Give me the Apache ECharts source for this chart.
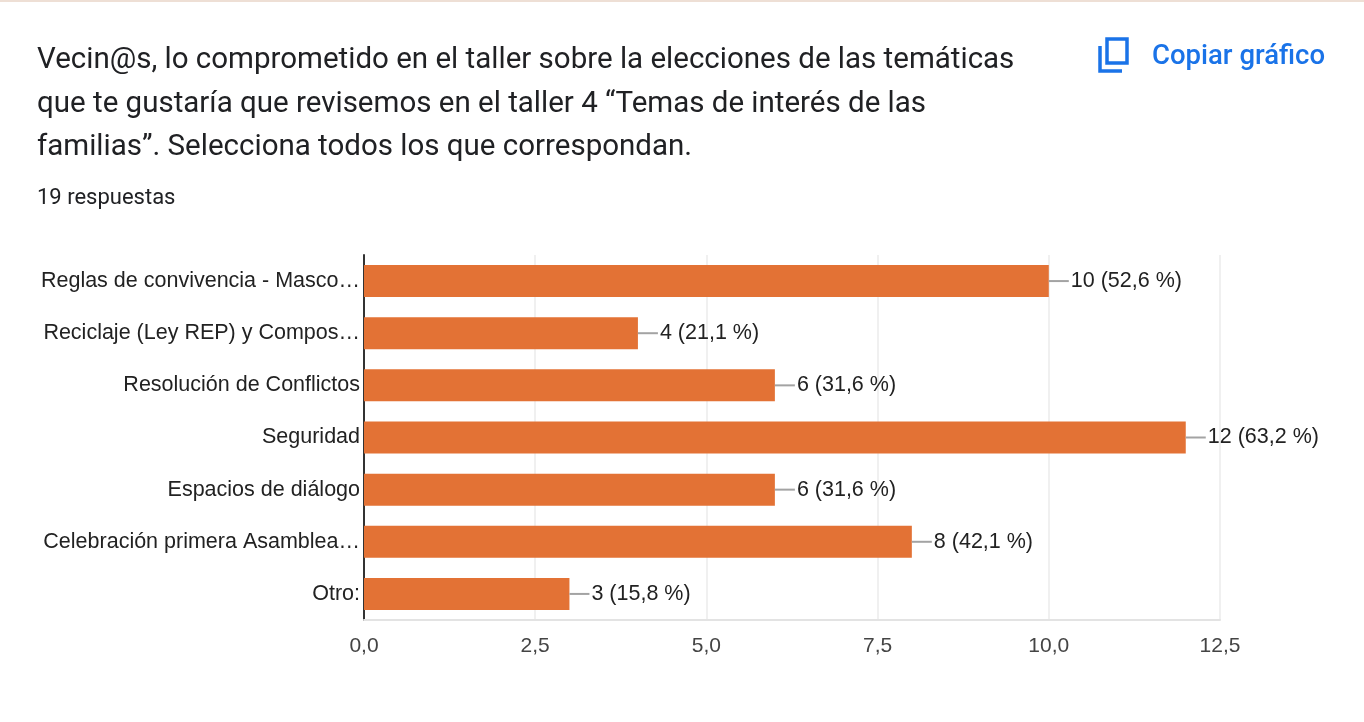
<!DOCTYPE html>
<html>
<head>
<meta charset="utf-8">
<script src="https://cdn.jsdelivr.net/npm/echarts@6/dist/echarts.min.js"></script>
<style>
	html, body { margin: 0; padding: 0; background: #fff; }
	#chart { width: 1364px; height: 722px; }
</style>
</head>
<body>
<div id="chart"></div>
<script>
// datos
var categorias = [
	'Reglas de convivencia - Masco…',
	'Reciclaje (Ley REP) y Compos…',
	'Resolución de Conflictos',
	'Seguridad',
	'Espacios de diálogo',
	'Celebración primera Asamblea…',
	'Otro:'
];
var respuestas = [10, 4, 6, 12, 6, 8, 3];
var porcentajes = ['52,6', '21,1', '31,6', '63,2', '31,6', '42,1', '15,8'];
var ticksX = [0, 2.5, 5, 7.5, 10, 12.5];

var titulo = 'Vecin@s, lo comprometido en el taller sobre la elecciones de las temáticas\nque te gustaría que revisemos en el taller 4 “Temas de interés de las\nfamilias”. Selecciona todos los que correspondan.';

var fuenteEje = '"Liberation Sans", Arial, sans-serif';
var azul = '#1a73e8';

var chart = echarts.init(document.getElementById('chart'));

var option = {
	backgroundColor: '#fff',
	animation: false,
	title: [{
		text: titulo,
		left: 32,
		top: 34,
		textStyle: {
			fontFamily: 'Roboto',
			fontSize: 29.5,
			fontWeight: 'normal',
			color: '#202124',
			lineHeight: 43.5
		}
	}, {
		text: '19 respuestas',
		left: 32,
		top: 182,
		textStyle: {
			fontFamily: 'Roboto',
			fontSize: 22,
			fontWeight: 'normal',
			color: '#202124'
		}
	}, {
		text: 'Copiar gráfico',
		left: 1147,
		top: 38,
		textStyle: {
			fontFamily: 'Roboto',
			fontSize: 27.5,
			fontWeight: 500,
			color: azul
		}
	}],
	graphic: [
		// borde superior de la tarjeta
		{ type: 'rect', left: 0, top: 0, shape: { width: 1364, height: 2 }, style: { fill: '#eedfd5' } },
		// icono copiar
		{ type: 'rect', shape: { x: 1107, y: 39, width: 20, height: 24 }, style: { fill: 'none', stroke: azul, lineWidth: 3.5 } },
		{ type: 'polyline', shape: { points: [[1100, 46], [1100, 71], [1122, 71]] }, style: { fill: 'none', stroke: azul, lineWidth: 3.5 } }
	],
	grid: {
		left: 364,
		right: 144,
		top: 255,
		bottom: 102,
		containLabel: false
	},
	xAxis: {
		type: 'value',
		min: 0,
		max: 12.5,
		interval: 2.5,
		axisLine: { show: true, lineStyle: { color: '#e3e3e3', width: 2 } },
		axisTick: { show: false },
		splitLine: { show: true, lineStyle: { color: '#ebebeb', width: 1.5 } },
		axisLabel: {
			margin: 16,
			fontFamily: fuenteEje,
			fontSize: 21,
			color: '#444',
			formatter: function (v) {
				return ticksX.indexOf(v) >= 0 ? v.toFixed(1).replace('.', ',') : '';
			}
		}
	},
	yAxis: {
		type: 'category',
		inverse: true,
		data: categorias,
		axisLine: { show: true, lineStyle: { color: '#333', width: 2 } },
		axisTick: { show: false },
		axisLabel: {
			margin: 4,
			fontFamily: fuenteEje,
			fontSize: 21.5,
			color: '#222'
		}
	},
	series: [{
		type: 'bar',
		data: respuestas,
		barWidth: 32,
		itemStyle: { color: '#e37235' },
		label: {
			show: true,
			position: 'right',
			distance: 0,
			formatter: function (p) {
				return '{l| }{t|' + p.value + ' (' + porcentajes[p.dataIndex] + ' %)}';
			},
			rich: {
				l: { width: 20, height: 2, backgroundColor: '#a3a3a3' },
				t: { fontFamily: fuenteEje, fontSize: 21.5, color: '#222', padding: [0, 0, 0, 2] }
			}
		}
	}]
};

chart.setOption(option);

window.onresize = function () {
	chart.resize();
};
</script>
</body>
</html>
